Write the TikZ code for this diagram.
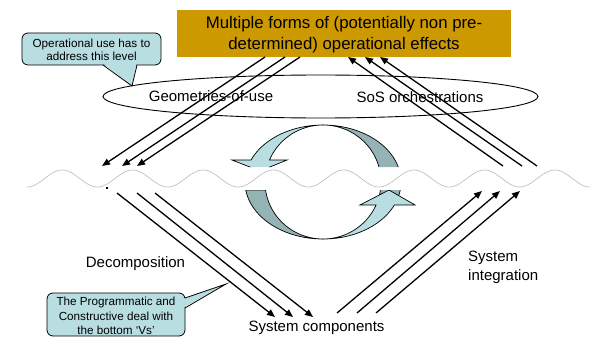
\documentclass[tikz,border=0pt]{standalone}
\usepackage{fontspec}
\setmainfont{Liberation Sans}
\usetikzlibrary{arrows.meta,shapes.geometric}
\definecolor{gold}{RGB}{204,153,0}
\definecolor{notefill}{RGB}{185,222,225}
\definecolor{arcback}{RGB}{149,179,181}
\definecolor{wavegray}{RGB}{192,192,192}

\begin{document}
\begin{tikzpicture}[x=1pt,y=-1pt,
  flow/.style={line width=1.3pt,-{Triangle[length=8pt,width=6.5pt]}},
  titletext/.style={font=\fontsize{16.8}{20}\selectfont,inner sep=0pt,anchor=base},
  labeltext/.style={font=\fontsize{15}{18}\selectfont,inner sep=0pt,anchor=base},
  notetext/.style={font=\fontsize{11.7}{14.3}\selectfont,inner sep=0pt,anchor=base},
  notebox/.style={fill=notefill,draw=black,line width=0.8pt,rounded corners=6pt},
  wedgeline/.style={draw=black,line width=0.8pt},
  bandfront/.style={fill=notefill,draw=black,line width=0.7pt},
  bandback/.style={fill=arcback,draw=black,line width=0.7pt}]

\useasboundingbox (0,0) rectangle (592,337);

% ---- effects box ----
\node[fill=gold,minimum width=334pt,minimum height=47pt,inner sep=0pt,anchor=north west] (effects) at (177,10) {};
\node[titletext] (effectsA) at (344,29) {Multiple forms of (potentially non pre-};
\node[titletext] (effectsB) at (344,49.5) {determined) operational effects};

% ---- usage level ellipse ----
\node[draw=black,line width=0.9pt,ellipse,minimum width=435pt,minimum height=43pt,inner sep=0pt] (usage) at (320.5,96.5) {};
\node[labeltext] (geom) at (211,101) {Geometries-of-use};
\node[labeltext] (sos) at (420,102.5) {SoS orchestrations};

% ---- circular arrows ----
\begin{scope}
  \clip (0,0) rectangle (592,167) (0,190) rectangle (592,337);
  % upper arrow: back face, then front face with head
  \path[bandback] plot[domain=-20:90,samples=60] ({323+78*cos(\x)},{182-57*sin(\x)})
     -- plot[domain=90:-20,samples=60] ({323+58*cos(\x)},{182-57*sin(\x)}) -- cycle;
  \path[bandfront] plot[domain=90:157.3,samples=50] ({323+78*cos(\x)},{182-57*sin(\x)})
     -- (232,160) -- (260,171) -- (287,160)
     -- plot[domain=157.3:90,samples=50] ({323+58*cos(\x)},{182-57*sin(\x)}) -- cycle;
  % lower arrow: back face, then front face with head
  \path[bandback] plot[domain=188.07:270,samples=60] ({323+78*cos(\x)},{182-57*sin(\x)})
     -- plot[domain=270:188.07,samples=60] ({323+58*cos(\x)},{182-57*sin(\x)}) -- cycle;
  \path[bandfront] plot[domain=270:336.2,samples=50] ({323+78*cos(\x)},{182-57*sin(\x)})
     -- (415,205) -- (389,190) -- (360,205)
     -- plot[domain=336.2:270,samples=50] ({323+58*cos(\x)},{182-57*sin(\x)}) -- cycle;
\end{scope}

% ---- wavy boundary ----
\draw[wavegray,line width=0.7pt] plot[domain=27:590,samples=320] (\x,{178.5+8.5*cos((\x-27)*5.1155)});
\fill (106,187) rectangle (108,189);

% ---- arrow end points ----
\coordinate (ulA) at (265,57);  \coordinate (ulA') at (102,166);
\coordinate (ulB) at (285,57);  \coordinate (ulB') at (122,166);
\coordinate (ulC) at (300,57);  \coordinate (ulC') at (137,166);
\coordinate (urA) at (503,166); \coordinate (urA') at (348,57);
\coordinate (urB) at (522,166); \coordinate (urB') at (365,57);
\coordinate (urC) at (537,166); \coordinate (urC') at (380,57);
\coordinate (llA) at (117,193); \coordinate (llA') at (275,317);
\coordinate (llB) at (137,193); \coordinate (llB') at (293,317);
\coordinate (llC) at (155,193); \coordinate (llC') at (313,317);
\coordinate (lrA) at (337,313); \coordinate (lrA') at (482,191);
\coordinate (lrB) at (357,313); \coordinate (lrB') at (500,191);
\coordinate (lrC) at (376,313); \coordinate (lrC') at (520,191);

\foreach \g in {ul,ur,ll,lr}{
  \foreach \k in {A,B,C}{
    \draw[flow] (\g\k) -- (\g\k');
  }
}

% ---- labels ----
\node[labeltext] (decomp) at (135.5,267) {Decomposition};
\node[labeltext] (parts) at (316.5,331.5) {System components};
\node[labeltext,anchor=base west] (integA) at (468,261.5) {System};
\node[labeltext,anchor=base west] (integB) at (468,280) {integration};

% ---- callout: operational use ----
\path[notebox] (22,33) rectangle (161,65);
\fill[notefill] (103.6,63.8) -- (132,86) -- (136.4,63.8) -- cycle;
\draw[wedgeline] (103,65) -- (132,86) -- (137,65);
\node[notetext] (useA) at (91.5,47.5) {Operational use has to};
\node[notetext] (useB) at (91.5,61) {address this level};

% ---- callout: programmatic ----
\path[notebox] (47,293) rectangle (185,336);
\fill[notefill] (183.8,298.6) -- (226,284) -- (183.8,307.4) -- cycle;
\draw[wedgeline] (185,298) -- (226,284) -- (185,308);
\node[notetext] (progA) at (116,305.7) {The Programmatic and};
\node[notetext] (progB) at (116,320.3) {Constructive deal with};
\node[notetext] (progC) at (116,334.3) {the bottom ‘Vs’};

\end{tikzpicture}
\end{document}
